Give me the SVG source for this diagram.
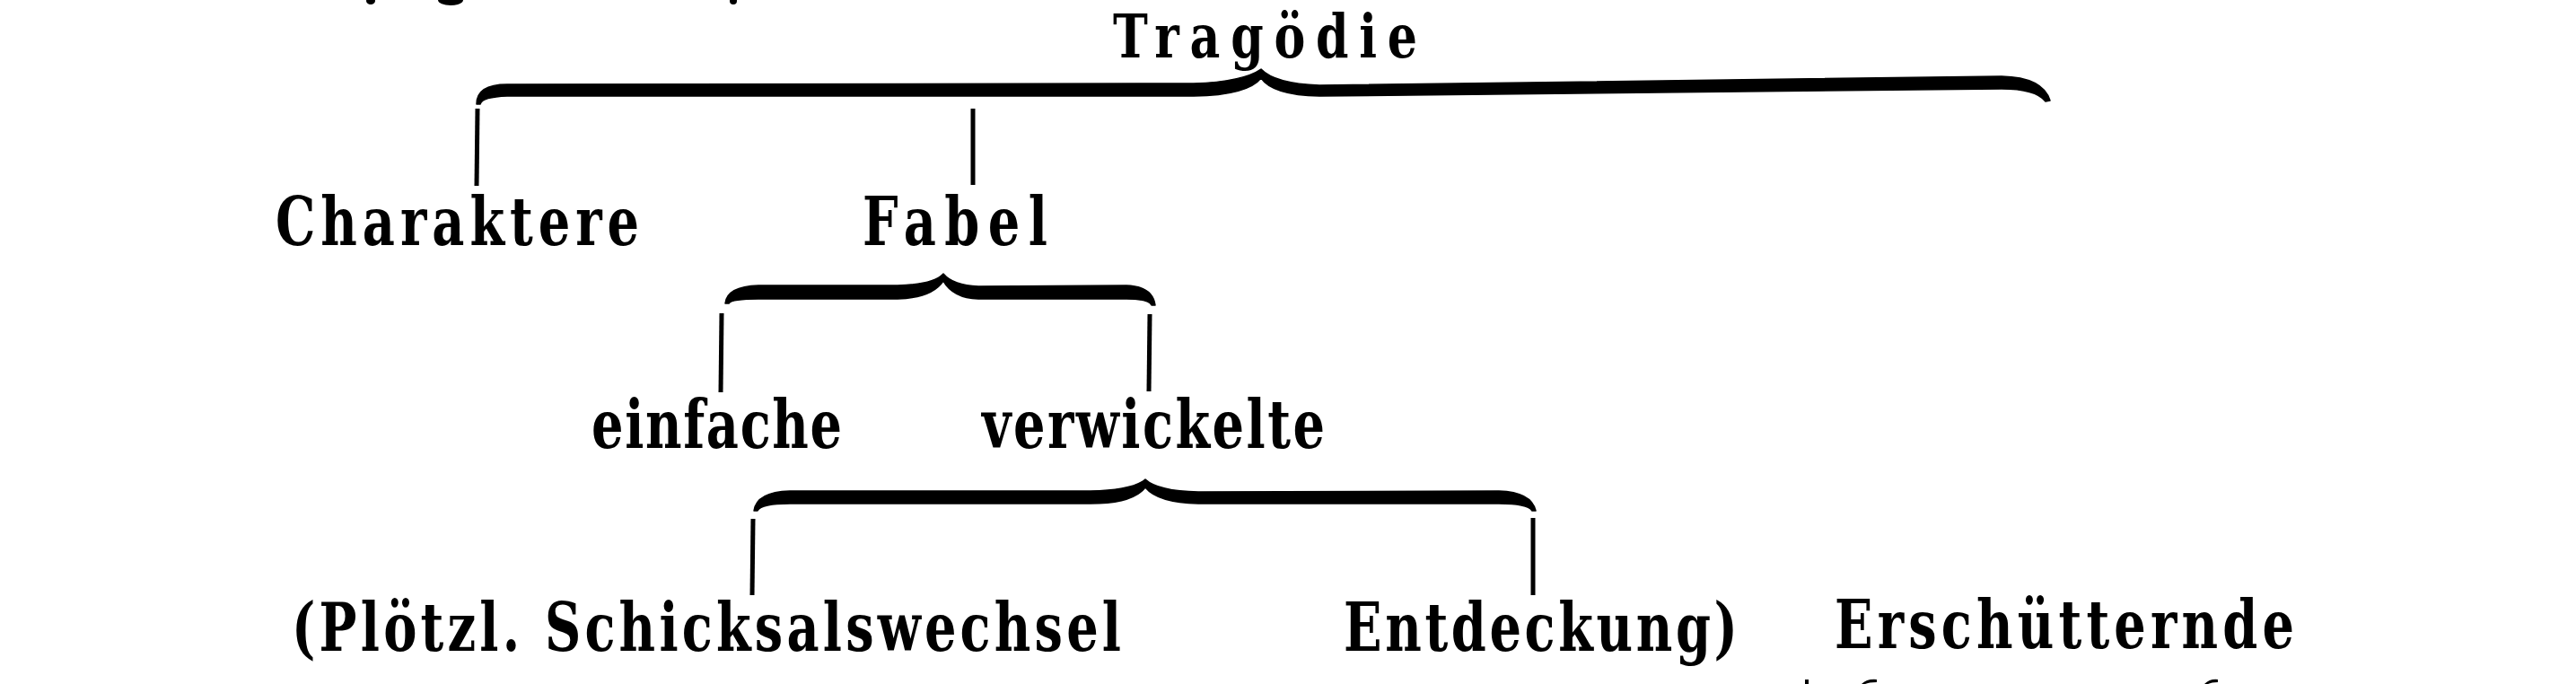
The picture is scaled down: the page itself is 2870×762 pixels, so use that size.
<svg xmlns="http://www.w3.org/2000/svg" width="2870" height="762" viewBox="0 0 2870 762">
<style>
  .t { font-family: "DejaVu Serif Condensed", "DejaVu Serif", "Liberation Serif", serif; font-weight: bold; font-size: 62px; fill: #000; }
  .brace { fill: #000; stroke: #000; stroke-width: 1.5; stroke-linejoin: round; }
  .line { stroke: #000; stroke-width: 5; fill: none; }
  .frag { fill: #000; }
</style>
<rect width="2870" height="762" fill="#fff"/>

<g id="fragments">
  <ellipse class="frag" cx="413" cy="1" rx="5" ry="4"/>
  <ellipse class="frag" cx="502" cy="0" rx="14" ry="6"/>
  <ellipse class="frag" cx="817" cy="1" rx="4" ry="4"/>
  <rect class="frag" x="2011" y="757" width="4" height="5"/>
  <path class="frag" d="M2074,762 Q2080,756 2091,757 L2091,760 Q2082,760 2078,762 Z"/>
  <path class="frag" d="M2456,762 Q2462,756 2471,757 L2471,760 Q2464,760 2460,762 Z"/>
</g>

<g id="connectors">
  <path class="brace" d="M531,116 Q531,94 565,94 L1330,93 Q1385,91 1405,77 Q1420,93 1470,95 L2230,85 Q2276,86 2284,112 L2279,113 Q2268,99 2230,99 L1470,107 Q1418,106 1405,87 Q1390,106 1330,107 L565,107 Q537,108 535,116 Z"/>
  <path class="brace" d="M808,338 Q810,319 845,318 L1000,318 Q1040,317 1051,305 Q1062,318 1090,319 L1255,318 Q1284,319 1287,340 L1283,340 Q1280,333 1255,333 L1090,333 Q1062,332 1051,313 Q1038,332 1000,333 L845,333 Q815,333 812,338 Z"/>
  <path class="brace" d="M840,569 Q843,548 880,547 L1215,547 Q1262,546 1276,534 Q1290,547 1335,548 L1670,547 Q1706,548 1711,569 L1707,569 Q1702,561 1670,561 L1335,561 Q1290,560 1276,543 Q1262,561 1215,561 L880,561 Q848,561 844,569 Z"/>
  <line class="line" x1="532" y1="121" x2="531" y2="207"/>
  <line class="line" x1="1084" y1="121" x2="1084" y2="206"/>
  <line class="line" x1="804" y1="349" x2="803" y2="437"/>
  <line class="line" x1="1281" y1="350" x2="1280" y2="436"/>
  <line class="line" x1="839" y1="578" x2="838" y2="663"/>
  <line class="line" x1="1708" y1="577" x2="1708" y2="663"/>
</g>

<g id="node-tragoedie">
  <text class="t" style="font-size:58px" transform="translate(1240 64) scale(1 1.15)" x="0" y="0" textLength="339" lengthAdjust="spacing">Tragödie</text>
</g>
<g id="node-charaktere">
  <text class="t" transform="translate(307 273) scale(1 1.2)" x="0" y="0" textLength="405" lengthAdjust="spacing">Charaktere</text>
</g>
<g id="node-fabel">
  <text class="t" transform="translate(961 273) scale(1 1.2)" x="0" y="0" textLength="206" lengthAdjust="spacing">Fabel</text>
</g>
<g id="node-einfache">
  <text class="t" transform="translate(659 499) scale(1 1.2)" x="0" y="0" textLength="279" lengthAdjust="spacing">einfache</text>
</g>
<g id="node-verwickelte">
  <text class="t" transform="translate(1094 499) scale(1 1.2)" x="0" y="0" textLength="382" lengthAdjust="spacing">verwickelte</text>
</g>
<g id="node-schicksalswechsel">
  <text class="t" transform="translate(325 725) scale(1 1.2)" x="0" y="0" textLength="924" lengthAdjust="spacing">(Plötzl. Schicksalswechsel</text>
</g>
<g id="node-entdeckung">
  <text class="t" transform="translate(1497 725) scale(1 1.2)" x="0" y="0" textLength="439" lengthAdjust="spacing">Entdeckung)</text>
</g>
<g id="node-erschuetternde">
  <text class="t" transform="translate(2044 722) scale(1 1.2)" x="0" y="0" textLength="512" lengthAdjust="spacing">Erschütternde</text>
</g>
</svg>
